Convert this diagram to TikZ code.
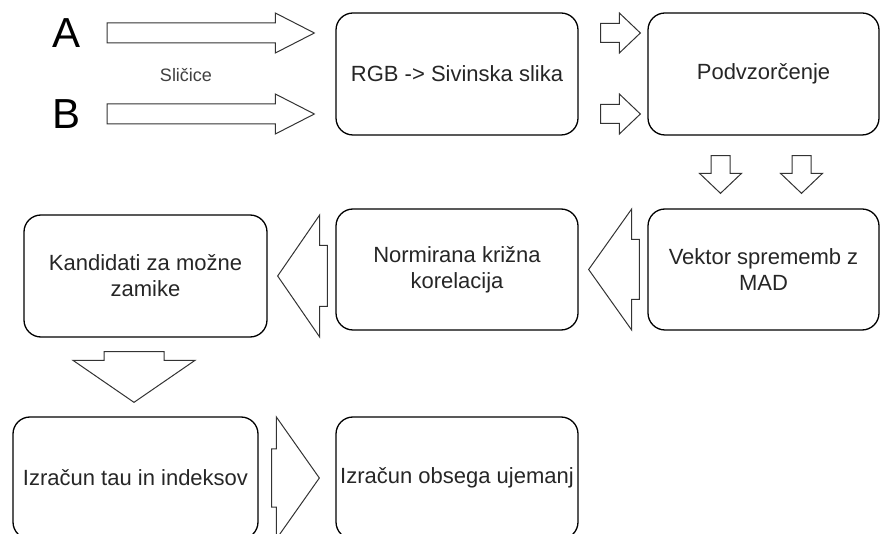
\documentclass[tikz,border=0pt]{standalone}
\usepackage{fontspec}
\setmainfont{Liberation Sans}
\usetikzlibrary{calc}
\tikzset{
	stage/.style={
		draw,
		rounded corners=17pt,
		line width=1.3pt,
		inner sep=0pt,
		align=center,
		text=black!85,
		font=\fontsize{22pt}{26pt}\selectfont
	},
	letter/.style={
		inner sep=0pt,
		font=\fontsize{42pt}{42pt}\selectfont
	},
	flex/.style n args={3}{
		draw=black!80,
		line width=1pt,
		fill=white,
		to path={let \p1=($(\tikztotarget)!#3!(\tikztostart)$) in
			($(\tikztostart)!#1!90:(\tikztotarget)$)
			-- ($(\p1)!#1!-90:(\tikztostart)$)
			-- ($(\p1)!#2!-90:(\tikztostart)$)
			-- (\tikztotarget)
			-- ($(\p1)!#2!90:(\tikztostart)$)
			-- ($(\p1)!#1!90:(\tikztostart)$)
			-- ($(\tikztostart)!#1!-90:(\tikztotarget)$)
			-- cycle}
	}
}

\begin{document}
\begin{tikzpicture}[x=1pt, y=1pt]
\useasboundingbox (0,0) rectangle (881,533);

% processing stages
\node[stage, minimum width=242pt, minimum height=122pt] (rgb) at (457, 459) {RGB -> Sivinska slika};
\node[stage, minimum width=231pt, minimum height=122pt] (pod) at (763.5, 459) {Podvzorčenje};
\node[stage, minimum width=231pt, minimum height=121pt] (vek) at (763.5, 263.5) {Vektor sprememb z\\MAD};
\node[stage, minimum width=242pt, minimum height=121pt] (nor) at (457, 263.5) {Normirana križna\\korelacija};
\node[stage, minimum width=243pt, minimum height=122pt] (kan) at (145.5, 257) {Kandidati za možne\\zamike};
\node[stage, minimum width=245pt, minimum height=122pt] (tau) at (135.5, 55) {Izračun tau in indeksov};
\node[stage, minimum width=242pt, minimum height=122pt] (obs) at (457, 55) {Izračun obsega ujemanj};

% inputs
\node[letter] (lA) at (67, 500) {A};
\node[letter] (lB) at (67, 419) {B};
\node[text=black!75, font=\fontsize{18pt}{18pt}\selectfont] (sl) at (186, 458) {Sličice};

\foreach \l in {lA, lB} {
	\draw[flex={10pt}{20pt}{39pt}] ($(\l.east)+(26,0)$) to ($(\l -| rgb.west)+(-21,0)$);
	\draw[flex={9.5pt}{20pt}{21pt}] ($(rgb.east |- \l)+(22,0)$) to ($(pod.west |- \l)+(-7,0)$);
}
\foreach \dx in {-43, 38} {
	\draw[flex={9.5pt}{21pt}{20pt}] ($(pod.south)+(\dx,-20)$) to ($(vek.north)+(\dx,15)$);
}

\draw[flex={30pt}{60.5pt}{43pt}] ([xshift=-8pt]vek.west) to ([xshift=10pt]nor.east);
\draw[flex={30.5pt}{61pt}{42pt}] ($(nor.west |- kan.east)+(-8,0)$) to ([xshift=10pt]kan.east);
\draw[flex={30pt}{61pt}{42pt}] ($(kan.south)+(-11.5,-14)$) to ($(tau.north)+(-1.5,14)$);
\draw[flex={29pt}{61pt}{43pt}] ([xshift=13pt]tau.east) to ([xshift=-16pt]obs.west);
\end{tikzpicture}
\end{document}
